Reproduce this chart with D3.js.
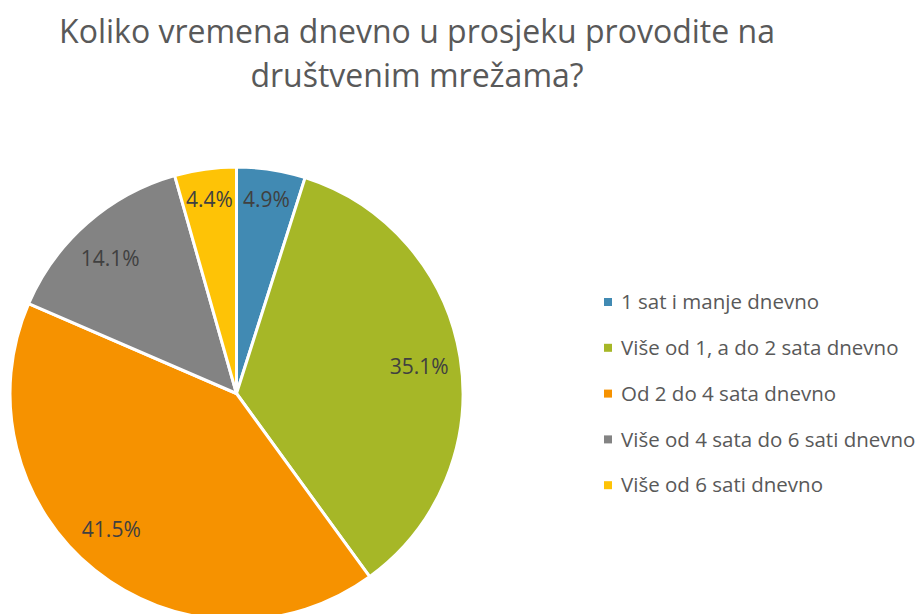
<!DOCTYPE html>
<html lang="hr">
<head>
<meta charset="utf-8">
<title>Pie</title>
<style>
  body { margin: 0; background: #fff; }
  text { font-family: "Open Sans", "Noto Sans", sans-serif; }
</style>
</head>
<body>
<div id="chart"></div>
<script src="https://cdn.jsdelivr.net/npm/d3@7"></script>
<script>
var categories = ["1 sat i manje dnevno", "Više od 1, a do 2 sata dnevno", "Od 2 do 4 sata dnevno", "Više od 4 sata do 6 sati dnevno", "Više od 6 sati dnevno"];
var values = [4.9, 35.1, 41.5, 14.1, 4.4];
var colors = ["#418ab3", "#a6b727", "#f69200", "#838383", "#fec306"];
var titleLines = ["Koliko vremena dnevno u prosjeku provodite na", "društvenim mrežama?"];

var width = 924, height = 614;
var cx = 236.5, cy = 393.5, R = 226.5;
// small nudges of the label angle (degrees), like Excel's best-fit placement
var labelShift = [0, 0.8, 4, -2, 0];

var svg = d3.select("#chart").append("svg")
    .attr("width", width)
    .attr("height", height);

// title
svg.selectAll(".title")
    .data(titleLines)
  .enter().append("text")
    .attr("class", "title")
    .attr("x", 417)
    .attr("y", function(d, i) { return 43 + i * 44; })
    .attr("text-anchor", "middle")
    .attr("font-size", 32)
    .attr("fill", "#595959")
    .text(function(d) { return d; });

var pie = d3.pie().sort(null).value(function(d) { return d; });
var arcs = pie(values);
var arc = d3.arc().innerRadius(0).outerRadius(R);

var g = svg.append("g").attr("transform", "translate(" + cx + "," + cy + ")");

g.selectAll(".slice")
    .data(arcs)
  .enter().append("path")
    .attr("class", "slice")
    .attr("d", arc)
    .attr("fill", function(d, i) { return colors[i]; })
    .attr("stroke", "#fff")
    .attr("stroke-width", 3)
    .attr("stroke-linejoin", "round");

g.selectAll(".lbl")
    .data(arcs)
  .enter().append("text")
    .attr("class", "lbl")
    .attr("transform", function(d, i) {
      var r = d.data < 6 ? R * 0.865 : R * 0.815;
      var a = (d.startAngle + d.endAngle) / 2 + labelShift[i] * Math.PI / 180;
      return "translate(" + (Math.sin(a) * r) + "," + (-Math.cos(a) * r) + ")";
    })
    .attr("text-anchor", "middle")
    .attr("dy", "0.35em")
    .attr("font-size", 21)
    .attr("fill", "#404040")
    .text(function(d) { return d.data.toFixed(1) + "%"; });

// legend
var leg = svg.selectAll(".leg")
    .data(categories)
  .enter().append("g")
    .attr("class", "leg")
    .attr("transform", function(d, i) { return "translate(604," + (302 + i * 45.8) + ")"; });

leg.append("rect")
    .attr("x", 0).attr("y", -4)
    .attr("width", 8).attr("height", 8)
    .attr("fill", function(d, i) { return colors[i]; });

leg.append("text")
    .attr("x", 17)
    .attr("dy", "0.35em")
    .attr("font-size", 20.5)
    .attr("fill", "#595959")
    .text(function(d) { return d; });
</script>
</body>
</html>
